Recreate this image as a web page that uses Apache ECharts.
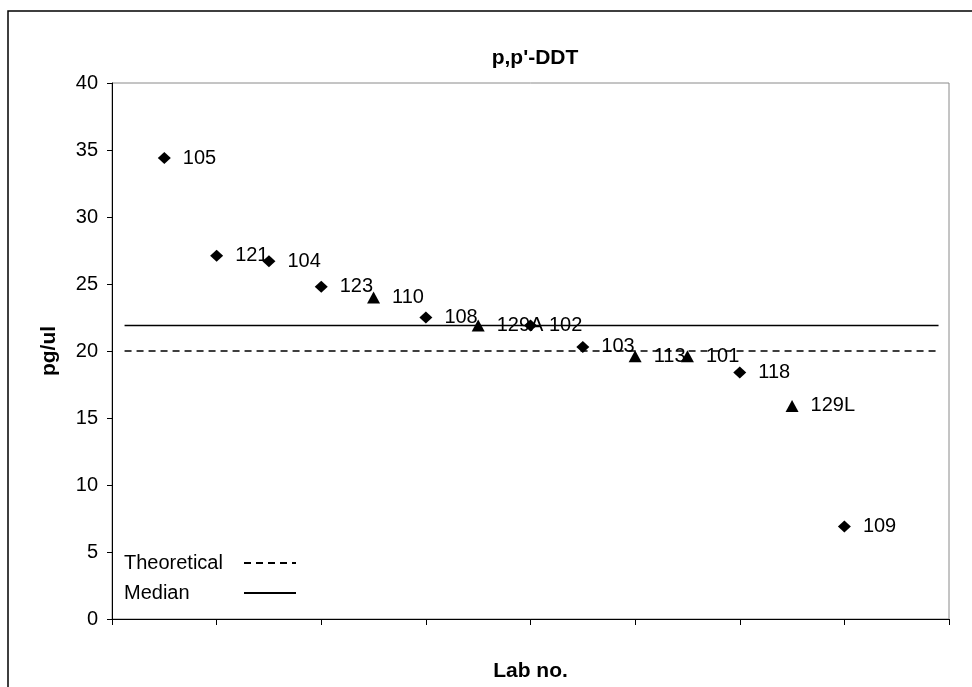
<!doctype html>
<html>
<head>
    <meta charset="utf-8">
    <title>p,p'-DDT</title>
    <script src="https://cdn.jsdelivr.net/npm/echarts@6/dist/echarts.min.js"></script>
    <style>
        html, body { margin: 0; padding: 0; background: #fff; }
        #chart { width: 972px; height: 687px; }
    </style>
</head>
<body>
<div id="chart"></div>
<script>
    // lab numbers, in the order they sit along the x axis
    var labs = ['105', '121', '104', '123', '110', '108', '129A', '102', '103', '113', '101', '118', '129L', '109'];
    var labPos = [0.5, 1, 1.5, 2, 2.5, 3, 3.5, 4, 4.5, 5, 5.5, 6, 6.5, 7];
    var values = [34.4, 27.1, 26.7, 24.8, 24.0, 22.5, 21.9, 21.9, 20.3, 19.6, 19.6, 18.4, 15.9, 6.9];
    var shapes = ['diamond', 'diamond', 'diamond', 'diamond', 'triangle', 'diamond', 'triangle',
                  'diamond', 'diamond', 'triangle', 'triangle', 'diamond', 'triangle', 'diamond'];

    // reference lines
    var theoretical = 20;
    var median = 21.9;
    var lineSpan = [0.12, 7.9];

    var yTicks = [0, 5, 10, 15, 20, 25, 30, 35, 40];

    var font = 'Liberation Sans, Arial, sans-serif';

    var points = labs.map(function (lab, i) {
        return {
            name: lab,
            value: [labPos[i], values[i]],
            symbol: shapes[i],
            symbolSize: [13, 12]
        };
    });

    var myChart = echarts.init(document.getElementById('chart'));
    var option = {
        animation: false,
        backgroundColor: '#fff',
        textStyle: { fontFamily: font, color: '#000' },
        title: {
            text: "p,p'-DDT",
            left: 530,
            top: 43,
            textAlign: 'center',
            textStyle: { fontFamily: font, fontSize: 21, fontWeight: 'bold', color: '#000' }
        },
        legend: {
            data: ['Theoretical', 'Median'],
            orient: 'vertical',
            left: 119,
            top: 548,
            align: 'right',
            itemWidth: 52,
            itemHeight: 14,
            itemGap: 10,
            selectedMode: false,
            itemStyle: { opacity: 0 },
            formatter: '{t|{name}}',
            textStyle: {
                fontFamily: font, fontSize: 20, color: '#000',
                rich: { t: { width: 115, align: 'left', fontSize: 20, lineHeight: 24, fontFamily: font, color: '#000' } }
            }
        },
        graphic: [{
            type: 'rect',
            shape: { x: 8, y: 11, width: 1000, height: 720 },
            style: { fill: null, stroke: '#000', lineWidth: 1.5 },
            silent: true
        }],
        grid: {
            left: 112,
            right: 23,
            top: 83,
            bottom: 67,
            show: true,
            borderColor: '#8a8a8a',
            borderWidth: 1
        },
        xAxis: {
            type: 'value',
            min: 0,
            max: 8,
            interval: 1,
            name: 'Lab no.',
            nameLocation: 'middle',
            nameGap: 42,
            nameTextStyle: { fontFamily: font, fontSize: 21, fontWeight: 'bold', color: '#000' },
            axisLine: { onZero: false, lineStyle: { color: '#000', width: 1 } },
            axisTick: { show: true, inside: false, length: 6, lineStyle: { color: '#000' } },
            axisLabel: { show: false },
            splitLine: { show: false }
        },
        yAxis: {
            type: 'value',
            min: yTicks[0],
            max: yTicks[yTicks.length - 1],
            interval: 5,
            name: 'pg/ul',
            nameLocation: 'middle',
            nameGap: 52,
            nameRotate: 90,
            nameTextStyle: { fontFamily: font, fontSize: 21, fontWeight: 'bold', color: '#000' },
            axisLine: { show: true, lineStyle: { color: '#000', width: 1 } },
            axisTick: { show: true, inside: false, length: 5, lineStyle: { color: '#000' } },
            axisLabel: { fontFamily: font, fontSize: 20, color: '#000', margin: 14 },
            splitLine: { show: false }
        },
        series: [
            {
                name: 'Theoretical',
                type: 'line',
                symbol: 'none',
                z: 2,
                lineStyle: { color: '#000', width: 1.5, type: [7, 5] },
                itemStyle: { color: '#000' },
                data: [[lineSpan[0], theoretical], [lineSpan[1], theoretical]]
            },
            {
                name: 'Median',
                type: 'line',
                symbol: 'none',
                z: 2,
                lineStyle: { color: '#000', width: 1.5, type: 'solid' },
                itemStyle: { color: '#000' },
                data: [[lineSpan[0], median], [lineSpan[1], median]]
            },
            {
                name: 'Labs',
                type: 'scatter',
                z: 3,
                itemStyle: { color: '#000', opacity: 1 },
                label: {
                    show: true,
                    position: 'right',
                    distance: 12,
                    formatter: '{b}',
                    fontFamily: font,
                    fontSize: 20,
                    color: '#000'
                },
                data: points
            }
        ]
    };
    myChart.setOption(option);
</script>
</body>
</html>
